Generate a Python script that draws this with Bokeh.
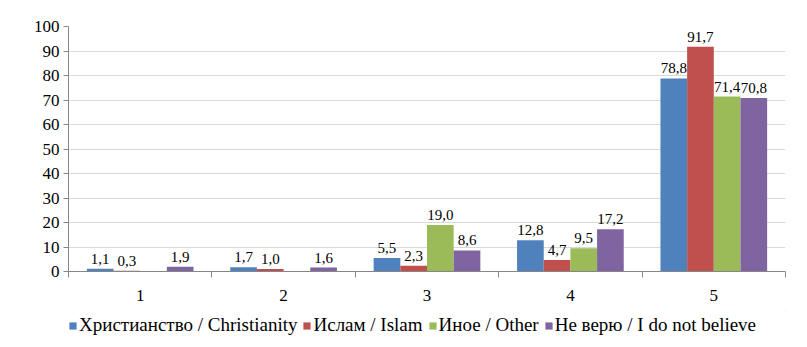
import math
from bokeh.plotting import figure
from bokeh.layouts import column
from bokeh.models import ColumnDataSource, FixedTicker, Legend, LegendItem, Range1d
from bokeh.core.properties import value
from bokeh.embed import file_html
from bokeh.resources import INLINE

categories = ["1", "2", "3", "4", "5"]
series_names = ["Христианство / Christianity", "Ислам / Islam", "Иное / Other", "Не верю / I do not believe"]
christianity = [1.1, 1.7, 5.5, 12.8, 78.8]
islam = [0.3, 1.0, 2.3, 4.7, 91.7]
other = [float("nan"), float("nan"), 19.0, 9.5, 71.4]
not_believe = [1.9, 1.6, 8.6, 17.2, 70.8]
y_ticks = [0, 10, 20, 30, 40, 50, 60, 70, 80, 90, 100]

colors = ["#4F81BD", "#C0504D", "#9BBB59", "#8064A2"]
series = [christianity, islam, other, not_believe]
FONT = "'Liberation Serif', 'Times New Roman', serif"

p = figure(width=807, height=310, output_backend="svg", toolbar_location=None,
           x_range=Range1d(0.5, 5.5), y_range=Range1d(0, 100))
p.min_border_left = 68
p.min_border_right = 22
p.min_border_top = 26
p.min_border_bottom = 39
p.outline_line_color = None
p.background_fill_color = "white"
p.border_fill_color = "white"

bw = 0.186
offsets = [-1.5 * bw, -0.5 * bw, 0.5 * bw, 1.5 * bw]
for name, vals, col, off in zip(series_names, series, colors, offsets):
    xs, tops, labs = [], [], []
    for i, v in enumerate(vals):
        if v is None or (isinstance(v, float) and math.isnan(v)):
            continue
        xs.append(i + 1 + off)
        tops.append(v)
        labs.append(f"{v:.1f}".replace(".", ","))
    src = ColumnDataSource(dict(x=xs, top=tops, lab=labs))
    p.vbar(x="x", top="top", width=bw, bottom=0, source=src, fill_color=col, line_color=None)
    p.text(x="x", y="top", text="lab", source=src, text_font=value(FONT), text_font_size="15px",
           text_align="center", text_baseline="bottom", y_offset=-5, text_color="#000000")

# axes
p.yaxis.ticker = FixedTicker(ticks=y_ticks)
p.yaxis.major_label_text_font = FONT
p.yaxis.major_label_text_font_size = "17px"
p.yaxis.major_label_text_color = "#000000"
p.yaxis.axis_line_color = "#868686"
p.yaxis.major_tick_line_color = "#868686"
p.yaxis.major_tick_out = 5
p.yaxis.major_tick_in = 0
p.yaxis.minor_tick_line_color = None
p.yaxis.major_label_standoff = 4

p.xaxis.ticker = FixedTicker(ticks=[1, 2, 3, 4, 5], minor_ticks=[0.5, 1.5, 2.5, 3.5, 4.5, 5.5])
p.xaxis.major_label_overrides = {i + 1: c for i, c in enumerate(categories)}
p.xaxis.major_label_text_font = FONT
p.xaxis.major_label_text_font_size = "17px"
p.xaxis.major_label_text_color = "#000000"
p.xaxis.axis_line_color = "#868686"
p.xaxis.major_tick_line_color = None
p.xaxis.minor_tick_line_color = "#868686"
p.xaxis.minor_tick_out = 6
p.xaxis.minor_tick_in = 0
p.xaxis.major_label_standoff = 12

p.xgrid.grid_line_color = None
p.ygrid.grid_line_color = "#D9D9D9"
p.ygrid.ticker = FixedTicker(ticks=y_ticks)

# legend strip
lg = figure(width=807, height=37, output_backend="svg", toolbar_location=None,
            x_range=Range1d(0, 1), y_range=Range1d(0, 1),
            x_axis_location=None, y_axis_location=None)
lg.min_border = 0
lg.grid.visible = False
lg.outline_line_color = None
items = []
for name, col in zip(series_names, colors):
    r = lg.vbar(x=[10], top=[10], bottom=[9], width=0.5, fill_color=col, line_color=None)
    items.append(LegendItem(label=name, renderers=[r]))
legend = Legend(items=items, orientation="horizontal", location=(0, 11),
                glyph_width=9, glyph_height=9, label_standoff=2, spacing=5,
                label_text_font=FONT, label_text_font_size="19px", label_text_color="#000000",
                border_line_color=None, background_fill_alpha=0, padding=0, margin=0,
                label_height=18)
lg.add_layout(legend, "center")

open("out.html", "w").write(file_html(column(p, lg, spacing=0), INLINE))
